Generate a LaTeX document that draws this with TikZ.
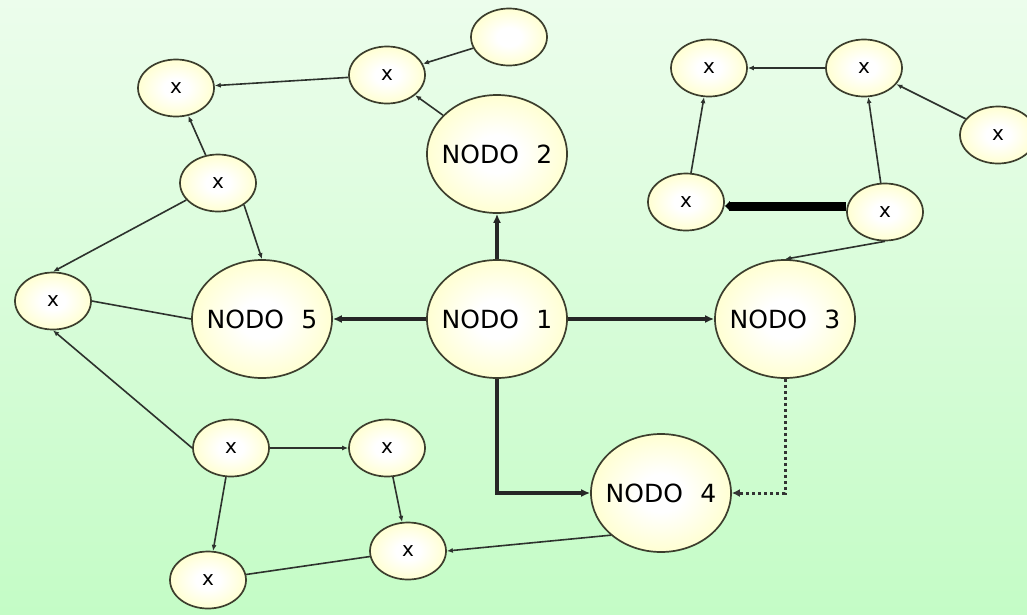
\documentclass[tikz,border=0pt]{standalone}
\usepackage{fontspec}
\usetikzlibrary{shapes.geometric,arrows.meta}
\newfontfamily\nodefont[WordSpace=2.2]{DejaVu Sans}
\definecolor{bgtop}{RGB}{236,253,236}
\definecolor{bgbot}{RGB}{196,252,198}
\definecolor{ny}{RGB}{255,255,160}
\definecolor{nborder}{RGB}{60,62,45}
\definecolor{edgec}{RGB}{45,50,45}
\pgfdeclareradialshading{ball}{\pgfpoint{0bp}{0bp}}{color(0bp)=(white); color(8bp)=(white); color(44bp)=(ny); color(50bp)=(ny)}
\begin{document}
\begin{tikzpicture}[x=1pt,y=-1pt,
 big/.style={ellipse, draw=nborder, line width=1.7pt, shade, shading=ball, minimum width=140pt, minimum height=118pt, inner sep=0pt,
   label={[font=\nodefont\fontsize{25}{25}\selectfont, inner sep=0pt]center:#1}},
 small/.style={ellipse, draw=nborder, line width=1.7pt, shade, shading=ball, minimum width=76pt, minimum height=57pt, inner sep=0pt, font=\nodefont\fontsize{20}{20}\selectfont},
 thinarrow/.style={draw=edgec, line width=1.6pt, -{Latex[length=6pt,width=5pt]}},
 plainline/.style={draw=edgec, line width=1.6pt},
 thickarrow/.style={draw=black!85, line width=3.5pt, -{Latex[length=9pt,width=8pt]}},
]
\shade[top color=bgtop, bottom color=bgbot] (0,0) rectangle (1027,614);
\useasboundingbox (0,0) rectangle (1027,614);

% big nodes
\node[big={NODO 1}] (N1) at (497,319) {};
\node[big={NODO 2}] (N2) at (497,154) {};
\node[big={NODO 3}] (N3) at (785,319) {};
\node[big={NODO 4}] (N4) at (661,493) {};
\node[big={NODO 5}] (N5) at (262,319) {};

% small nodes
\node[small] (A) at (509,37) {};
\node[small] (B) at (387,75) {x};
\node[small] (C) at (176,88) {x};
\node[small] (D) at (218,183) {x};
\node[small] (E) at (53,301) {x};
\node[small] (F) at (231,448) {x};
\node[small] (G) at (387,448) {x};
\node[small] (H) at (408,551) {x};
\node[small] (I) at (208,580) {x};
\node[small] (J) at (709,68) {x};
\node[small] (K) at (864,68) {x};
\node[small] (L) at (998,135) {x};
\node[small] (M) at (686,202) {x};
\node[small] (P) at (885,212) {x};

% left cluster
\draw[thinarrow] (A) -- (B);
\draw[thinarrow] (B) -- (C);
\draw[thinarrow] (N2) -- (B);
\draw[thinarrow] (D) -- (C);
\draw[thinarrow] (D) -- (E.north);
\draw[thinarrow] (D.-40) -- (N5.north);
\draw[plainline] (N5.west) -- (E.east);
\draw[thinarrow] (F.west) -- (E.south);
\draw[thinarrow] (F) -- (G);
\draw[thinarrow] (F) -- (I);
\draw[thinarrow] (G) -- (H);
\draw[plainline] (I) -- (H);
\draw[thinarrow] (N4.-140) -- (H.east);

% right cluster
\draw[thinarrow] (K.west) -- (J.east);
\draw[thinarrow] (M) -- (J);
\draw[thinarrow] (L) -- (K);
\draw[thinarrow] (P) -- (K);
\draw[draw=black, line width=9pt, -{Latex[length=5pt,width=11pt]}] ([yshift=6pt]P.west) -- ([yshift=-4pt]M.east);
\draw[thinarrow] (P.south) -- (N3.north);

% main connectors
\draw[thickarrow] (N1) -- (N2);
\draw[thickarrow] (N1) -- (N5);
\draw[thickarrow] (N1) -- (N3);
\draw[thickarrow] (N1.south) |- (N4.west);
\draw[draw=black!80, line width=3pt, dash pattern=on 3pt off 3pt, -{Latex[length=8pt,width=8pt]}] (N3.south) |- (N4.east);
\end{tikzpicture}
\end{document}
